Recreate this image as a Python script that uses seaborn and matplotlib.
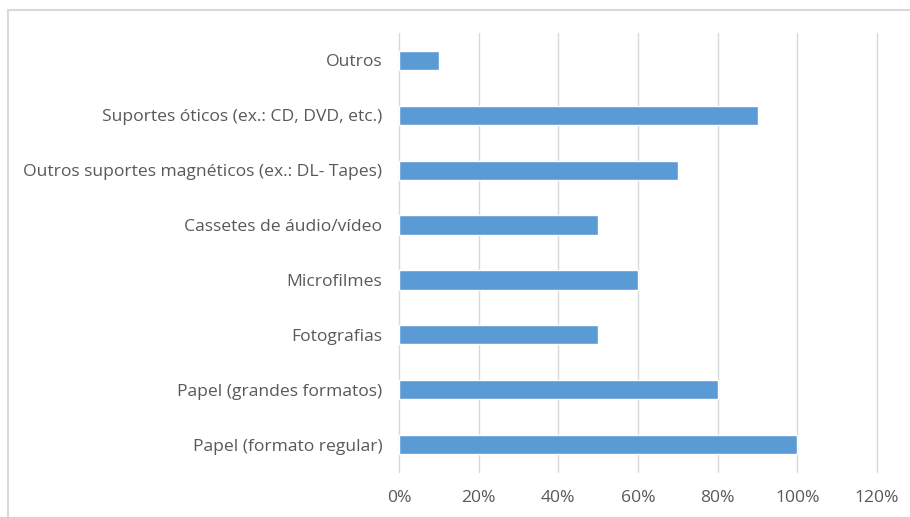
import matplotlib
matplotlib.use("Agg")
import matplotlib.pyplot as plt
import seaborn as sns
import pandas as pd
from matplotlib.ticker import FuncFormatter
from matplotlib.patches import Rectangle

categories = [
    "Outros",
    "Suportes óticos (ex.: CD, DVD, etc.)",
    "Outros suportes magnéticos (ex.: DL- Tapes)",
    "Cassetes de áudio/vídeo",
    "Microfilmes",
    "Fotografias",
    "Papel (grandes formatos)",
    "Papel (formato regular)",
]
values = [0.10, 0.90, 0.70, 0.50, 0.60, 0.50, 0.80, 1.00]
xticks = [0, 0.2, 0.4, 0.6, 0.8, 1.0, 1.2]

df = pd.DataFrame({"cat": categories, "val": values})

sns.set_theme(style="white")
plt.rcParams["font.family"] = ["Open Sans", "DejaVu Sans"]

W, H = 910, 517
fig = plt.figure(figsize=(W / 100, H / 100), dpi=100)
ax = fig.add_axes([399 / W, 1 - 472 / H, (877 - 399) / W, (472 - 33) / H])

sns.barplot(data=df, x="val", y="cat", color="#5B9BD5", saturation=1,
            width=0.35, ax=ax, orient="h")

ax.set_xlim(0, 1.2)
ax.set_ylim(7.5, -0.5)
ax.set_xticks(xticks)
ax.xaxis.set_major_formatter(FuncFormatter(lambda v, p: f"{v*100:.0f}%"))
ax.grid(axis="x", color="#D9D9D9", linewidth=1)
for gl in ax.get_xgridlines():
    gl.set_clip_on(False)
ax.set_axisbelow(True)
for s in ax.spines.values():
    s.set_visible(False)
ax.set_xlabel("")
ax.set_ylabel("")
ax.tick_params(axis="both", length=0, labelsize=12.6, labelcolor="#595959")
ax.tick_params(axis="y", pad=12)
ax.tick_params(axis="x", pad=13)

fig.patches.append(Rectangle((8 / W, -0.1), 1.2, (1 - 9.5 / H) + 0.1,
                             transform=fig.transFigure, fill=False,
                             edgecolor="#D9D9D9", linewidth=1.5))

fig.savefig("out.png", dpi=100)
